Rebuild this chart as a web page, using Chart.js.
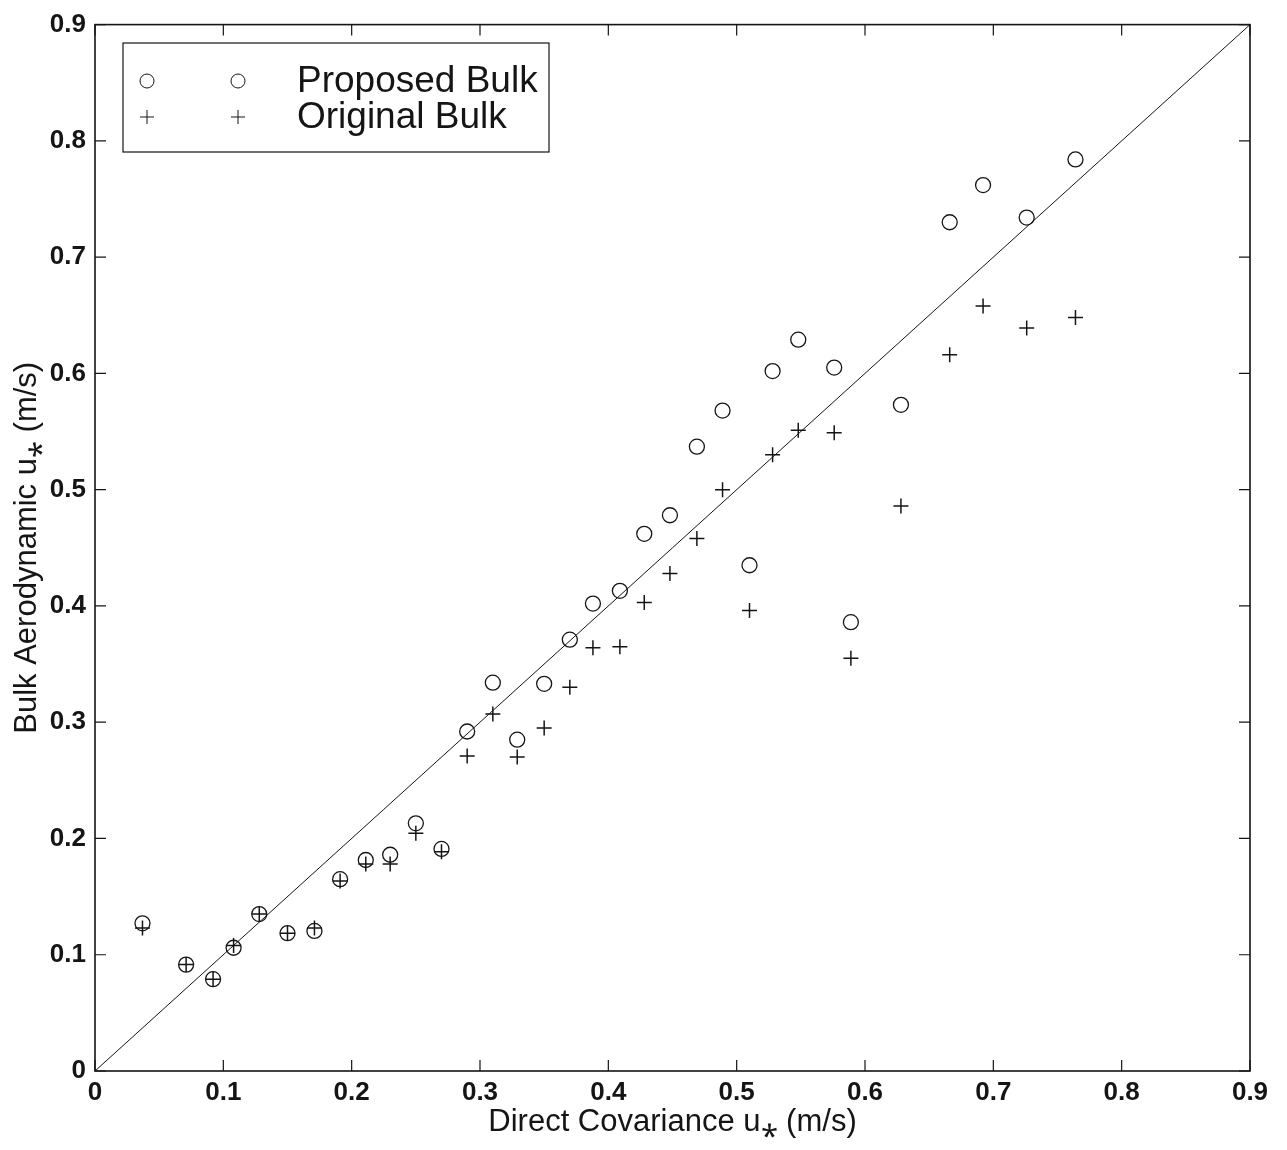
<!DOCTYPE html>
<html>
<head>
<meta charset="utf-8">
<title>Bulk vs direct covariance u*</title>
<script src="https://cdn.jsdelivr.net/npm/chart.js"></script>
<style>
  body { margin: 0; background: #fff; }
  #wrap { width: 1287px; height: 1150px; }
</style>
</head>
<body>
<div id="wrap"><canvas id="grafico_ust" width="1287" height="1150"></canvas></div>
<script>
// friction velocity from direct covariance (x) and from the two bulk schemes (y)
var ust_cov = [0.037, 0.071, 0.092, 0.108, 0.128, 0.150, 0.171, 0.191, 0.211, 0.230, 0.250,
               0.270, 0.290, 0.310, 0.329, 0.350, 0.370, 0.388, 0.409, 0.428, 0.448, 0.469,
               0.489, 0.510, 0.528, 0.548, 0.576, 0.589, 0.628, 0.666, 0.692, 0.726, 0.764];
var ust_propuesto = [0.127, 0.0915, 0.079, 0.106, 0.135, 0.1185, 0.1205, 0.165, 0.1815, 0.186, 0.213,
                     0.191, 0.292, 0.334, 0.285, 0.333, 0.371, 0.402, 0.413, 0.462, 0.478, 0.537,
                     0.568, 0.435, 0.602, 0.629, 0.605, 0.386, 0.573, 0.730, 0.762, 0.734, 0.784];
var ust_original = [0.123, 0.0915, 0.079, 0.108, 0.135, 0.1185, 0.123, 0.1635, 0.178, 0.178, 0.2045,
                    0.1885, 0.271, 0.307, 0.270, 0.295, 0.330, 0.364, 0.365, 0.403, 0.428, 0.458,
                    0.500, 0.396, 0.530, 0.551, 0.549, 0.355, 0.486, 0.616, 0.658, 0.639, 0.648];
var linea_1a1 = [0, 0.9];

var tick_vals = [0, 0.1, 0.2, 0.3, 0.4, 0.5, 0.6, 0.7, 0.8, 0.9];
var tick_txt = ["0", "0.1", "0.2", "0.3", "0.4", "0.5", "0.6", "0.7", "0.8", "0.9"];

var nombres = ["Proposed Bulk", "Original Bulk"];
var titulo_x = "Direct Covariance u\u204E (m/s)";
var titulo_y = "Bulk Aerodynamic u\u204E (m/s)";

const FUENTE = '"Liberation Sans", Arial, Helvetica, sans-serif';
const NEGRO = '#151515';

function pares(xs, ys) {
    return xs.map(function (x, i) { return {x: x, y: ys[i]}; });
}

var datos_prop = {label: nombres[0], data: pares(ust_cov, ust_propuesto), pointStyle: 'circle',
                  pointRadius: 7.5, borderColor: NEGRO, backgroundColor: 'rgba(0,0,0,0)',
                  borderWidth: 1.3, showLine: false};
var datos_orig = {label: nombres[1], data: pares(ust_cov, ust_original), pointStyle: 'cross',
                  pointRadius: 7.5, borderColor: NEGRO, borderWidth: 1.5, showLine: false};
var datos_linea = {label: '1:1', data: pares(linea_1a1, linea_1a1), showLine: true, pointRadius: 0,
                   borderColor: NEGRO, borderWidth: 1, fill: false};

// MATLAB-like frame with inward ticks on all four sides
var marco = {
    id: 'marco',
    afterDatasetsDraw: function (chart) {
        var ctx = chart.ctx, a = chart.chartArea;
        var sx = chart.scales.x, sy = chart.scales.y;
        var L = 11;
        ctx.save();
        ctx.strokeStyle = NEGRO;
        ctx.lineWidth = 1.2;
        ctx.beginPath();
        tick_vals.forEach(function (v) {
            var px = sx.getPixelForValue(v);
            ctx.moveTo(px, a.bottom); ctx.lineTo(px, a.bottom - L);
            ctx.moveTo(px, a.top); ctx.lineTo(px, a.top + L);
            var py = sy.getPixelForValue(v);
            ctx.moveTo(a.left, py); ctx.lineTo(a.left + L, py);
            ctx.moveTo(a.right, py); ctx.lineTo(a.right - L, py);
        });
        ctx.stroke();
        ctx.lineWidth = 1.6;
        ctx.strokeRect(a.left, a.top, a.right - a.left, a.bottom - a.top);

        // legend box in the upper left corner
        var bx = 123, by = 43, bw = 426, bh = 109;
        ctx.fillStyle = '#fff';
        ctx.fillRect(bx, by, bw, bh);
        ctx.lineWidth = 1.2;
        ctx.strokeRect(bx, by, bw, bh);
        var filas = [81, 117];
        var estilos = ['circle', 'cross'];
        ctx.lineWidth = 1;
        filas.forEach(function (fy, i) {
            [147, 238].forEach(function (mx) {
                ctx.beginPath();
                if (estilos[i] === 'circle') {
                    ctx.arc(mx, fy, 7, 0, Math.PI * 2);
                } else {
                    ctx.moveTo(mx - 7, fy); ctx.lineTo(mx + 7, fy);
                    ctx.moveTo(mx, fy - 7); ctx.lineTo(mx, fy + 7);
                }
                ctx.stroke();
            });
            ctx.fillStyle = NEGRO;
            ctx.font = '37px ' + FUENTE;
            ctx.textAlign = 'left';
            ctx.textBaseline = 'middle';
            ctx.fillText(nombres[i], 297, fy + 1);
        });
        ctx.restore();
    }
};

function escala(titulo, horizontal) {
    return {
        type: 'linear',
        min: 0,
        max: 0.9,
        afterBuildTicks: function (s) {
            s.ticks = tick_vals.map(function (v) { return {value: v}; });
        },
        afterFit: function (s) {
            if (horizontal) { s.height = 79; } else { s.width = 95; }
        },
        grid: {display: false, drawTicks: false},
        border: {display: false},
        ticks: {
            color: NEGRO,
            font: {family: FUENTE, size: 26, weight: 'bold'},
            padding: horizontal ? 6 : 9,
            maxRotation: 0,
            autoSkip: false,
            callback: function (v, i) { return tick_txt[i]; }
        },
        title: {
            display: true,
            text: titulo,
            color: NEGRO,
            font: {family: FUENTE, size: 31},
            padding: {top: 9, bottom: 9}
        }
    };
}

var grafico_ust = new Chart(document.getElementById('grafico_ust').getContext('2d'), {
    type: 'scatter',
    data: {datasets: [datos_linea, datos_prop, datos_orig]},
    options: {
        responsive: false,
        animation: false,
        devicePixelRatio: 1,
        layout: {padding: {top: 22, right: 37, left: 0, bottom: 0}},
        plugins: {legend: {display: false}, tooltip: {enabled: false}},
        scales: {
            x: escala(titulo_x, true),
            y: escala(titulo_y, false)
        }
    },
    plugins: [marco]
});
</script>
</body>
</html>
